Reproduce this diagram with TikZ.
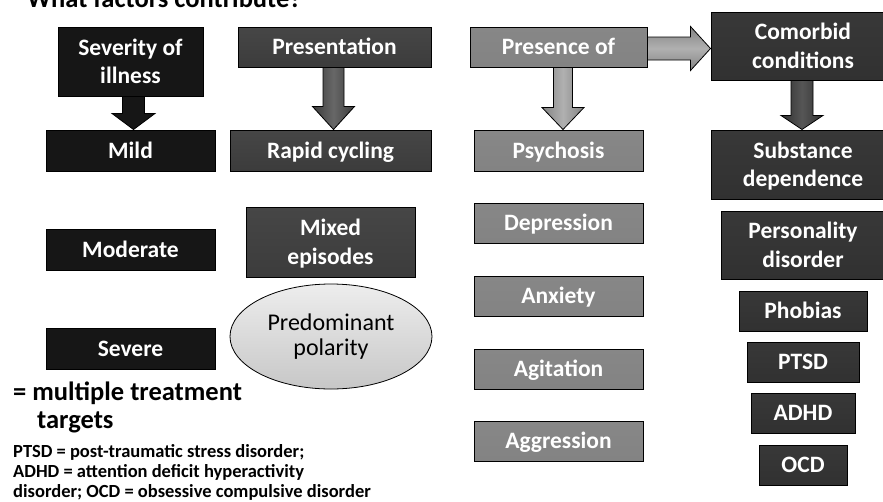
\documentclass[tikz,border=0pt]{standalone}
\usepackage{fontspec}
\setmainfont{Carlito}
\usetikzlibrary{calc,shapes.geometric}
\definecolor{sevfill}{HTML}{161616}
\definecolor{prestop}{HTML}{464646}
\definecolor{presmid}{HTML}{676767}
\definecolor{presbot}{HTML}{3C3C3C}
\definecolor{psytop}{HTML}{878787}
\definecolor{psymid}{HTML}{B0B0B0}
\definecolor{psybot}{HTML}{838383}
\definecolor{comtop}{HTML}{383838}
\definecolor{commid}{HTML}{565656}
\definecolor{combot}{HTML}{313131}
\tikzset{
  boxbase/.style={draw=black, line width=1pt, text=white, align=center, inner sep=0pt,
    font=\fontsize{23.5}{28.5}\selectfont\bfseries, text depth=0pt, text height=15.5pt},
  twoline/.style={text height=44pt},
  sevbox/.style={boxbase, fill=sevfill},
  presbox/.style={boxbase, top color=prestop, middle color=presmid, bottom color=presbot},
  psybox/.style={boxbase, top color=psytop, middle color=psymid, bottom color=psybot},
  combox/.style={boxbase, top color=comtop, middle color=commid, bottom color=combot},
  sevarrow/.style={draw=black, line width=0.8pt, fill=sevfill},
  presarrow/.style={draw=black, line width=0.8pt, left color=presbot, right color=presbot, middle color=presmid},
  psyarrow/.style={draw=black, line width=0.8pt, left color=psybot, right color=psybot, middle color=psymid},
  comarrow/.style={draw=black, line width=0.8pt, left color=combot, right color=combot, middle color=commid},
  psyarrowh/.style={draw=black, line width=0.8pt, top color=psybot, bottom color=psybot, middle color=psymid},
  ovalbox/.style={ellipse, draw=black, line width=0.8pt, inner sep=0pt, top color=white!93!black, bottom color=white!78!black,
    font=\fontsize{24}{25}\selectfont, align=center},
  plaintext/.style={inner sep=0pt, text=black, anchor=base west},
  bigtext/.style={plaintext, font=\fontsize{26.5}{30}\selectfont\bfseries},
  smalltext/.style={plaintext, font=\fontsize{18.5}{20}\selectfont\bfseries},
}
% #1 style, #2 from node, #3 to node, #4 xshift, #5 shaft half, #6 head half, #7 head length
\newcommand\arrdown[7]{%
  \path[#1] let \p1=(#2.south), \p2=(#3.north) in
    (\x1+#4pt-#5pt,\y1) -- (\x1+#4pt+#5pt,\y1) -- (\x1+#4pt+#5pt,\y2+#7pt)
    -- (\x1+#4pt+#6pt,\y2+#7pt) -- (\x1+#4pt,\y2) -- (\x1+#4pt-#6pt,\y2+#7pt)
    -- (\x1+#4pt-#5pt,\y2+#7pt) -- cycle;}
% #1 style, #2 from node, #3 to node, #4 yshift, #5 shaft half, #6 head half, #7 head length
\newcommand\arrright[7]{%
  \path[#1] let \p1=(#2.east), \p2=(#3.west) in
    (\x1,\y1+#4pt+#5pt) -- (\x2-#7pt,\y1+#4pt+#5pt) -- (\x2-#7pt,\y1+#4pt+#6pt)
    -- (\x2,\y1+#4pt) -- (\x2-#7pt,\y1+#4pt-#6pt) -- (\x2-#7pt,\y1+#4pt-#5pt)
    -- (\x1,\y1+#4pt-#5pt) -- cycle;}
\begin{document}
\begin{tikzpicture}[x=1pt,y=-1pt]
\useasboundingbox (0,0) rectangle (883,501);
\clip (0,0) rectangle (883,501);
\fill[white] (0,0) rectangle (883,501);

\node[bigtext] (title) at (27,7) {What factors contribute?};

% Severity column
\node[sevbox, twoline, minimum width=145pt, minimum height=69pt] (sev) at (130.5,61.5) {Severity of\\illness};
\node[sevbox, minimum width=169pt, minimum height=41pt] (mild) at (130.5,150.5) {Mild};
\node[sevbox, minimum width=169pt, minimum height=41pt] (moderate) at (130.5,249.5) {Moderate};
\node[sevbox, minimum width=169pt, minimum height=41pt] (severe) at (130.5,348.5) {Severe};
\arrdown{sevarrow}{sev}{mild}{3}{11}{21.5}{16}

% Presentation column
\node[presbox, minimum width=193pt, minimum height=40pt] (pres) at (334.5,47) {Presentation};
\node[presbox, minimum width=201pt, minimum height=41pt] (rapid) at (330.5,150.5) {Rapid cycling};
\node[presbox, twoline, minimum width=169pt, minimum height=70pt] (mixed) at (330.5,242) {Mixed\\episodes};
\node[ovalbox, minimum width=202pt, minimum height=105pt] (polar) at (331,336.5) {Predominant\\polarity};
\arrdown{presarrow}{pres}{rapid}{-1}{10.5}{21}{23}

% Presence column
\node[psybox, minimum width=177pt, minimum height=40pt] (presence) at (558.5,47) {Presence of};
\node[psybox, minimum width=169pt, minimum height=41pt] (psychosis) at (558.5,150.5) {Psychosis};
\node[psybox, minimum width=169pt, minimum height=40pt] (depression) at (558.5,223) {Depression};
\node[psybox, minimum width=169pt, minimum height=40pt] (anxiety) at (558.5,296) {Anxiety};
\node[psybox, minimum width=169pt, minimum height=40pt] (agitation) at (558.5,369) {Agitation};
\node[psybox, minimum width=169pt, minimum height=40pt] (aggression) at (558.5,441) {Aggression};
\arrdown{psyarrow}{presence}{psychosis}{4.5}{9.5}{21}{22}

% Comorbid column
\node[combox, twoline, minimum width=184pt, minimum height=68pt] (comorbid) at (803,46) {Comorbid\\conditions};
\node[combox, twoline, minimum width=184pt, minimum height=69pt] (substance) at (803,164.5) {Substance\\dependence};
\node[combox, twoline, minimum width=164pt, minimum height=68pt] (personality) at (803,245) {Personality\\disorder};
\node[combox, minimum width=128pt, minimum height=40pt] (phobias) at (803,311) {Phobias};
\node[combox, minimum width=112pt, minimum height=40pt] (ptsd) at (803,362) {PTSD};
\node[combox, minimum width=104pt, minimum height=40pt] (adhd) at (803,413) {ADHD};
\node[combox, minimum width=88pt, minimum height=40pt] (ocd) at (803,465) {OCD};
\arrdown{comarrow}{comorbid}{substance}{-1}{11}{21}{14}
\arrright{psyarrowh}{presence}{comorbid}{-1.5}{11.5}{22}{20}

% Footnotes
\node[bigtext] (multi) at (13,400) {= multiple treatment};
\node[bigtext] (targets) at (37,428) {targets};
\node[smalltext] (abbr1) at (13,457) {PTSD = post-traumatic stress disorder;};
\node[smalltext] (abbr2) at (13,477) {ADHD = attention deficit hyperactivity};
\node[smalltext] (abbr3) at (13,497) {disorder; OCD = obsessive compulsive disorder};
\end{tikzpicture}
\end{document}
